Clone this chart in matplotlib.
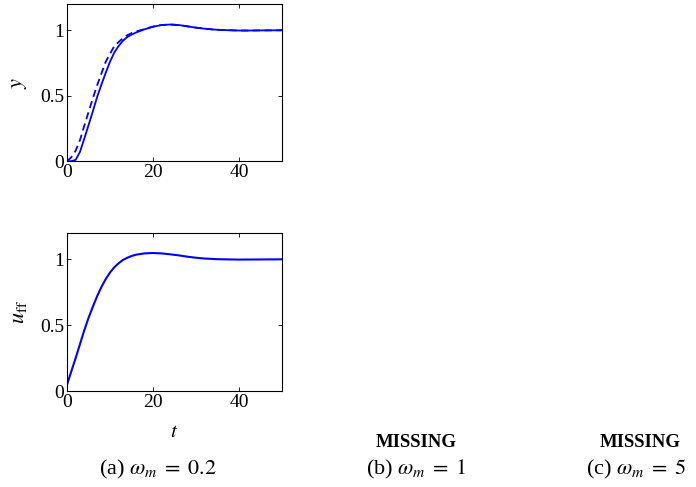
import matplotlib
matplotlib.use('Agg')
import matplotlib.pyplot as plt

plt.rcParams['font.family'] = ['Liberation Serif', 'DejaVu Serif']
plt.rcParams['mathtext.fontset'] = 'stix'

# output y (solid) and reference (dashed)
t_y = [0, 1, 2, 3, 4, 5, 6, 7, 8, 9, 10, 11, 12, 13, 14, 15, 16, 17, 18, 20, 22, 24,
       26, 28, 30, 32, 34, 36, 38, 40, 42, 45, 50]
y_solid = [0, 0, 0.01, 0.07, 0.17, 0.275, 0.38, 0.49, 0.585, 0.675, 0.76, 0.83, 0.88,
           0.92, 0.948, 0.967, 0.982, 0.995, 1.007, 1.027, 1.04, 1.044, 1.04, 1.03, 1.02,
           1.012, 1.006, 1.002, 1.0, 0.998, 0.998, 0.999, 1.0]
y_dashed = [0, 0.03, 0.08, 0.16, 0.27, 0.375, 0.48, 0.58, 0.67, 0.76, 0.82, 0.88, 0.91,
            0.94, 0.962, 0.978, 0.99, 1.0, 1.01, 1.028, 1.04, 1.044, 1.04, 1.03, 1.02,
            1.012, 1.006, 1.002, 1.0, 0.998, 0.998, 0.999, 1.0]

# feedforward input
t_u = [0, 1, 2, 3, 4, 5, 6, 7, 8, 9, 10, 11, 12, 13, 14, 15, 16, 18, 20, 22, 24, 26,
       28, 30, 32, 35, 40, 45, 50]
u_ff = [0.048, 0.15, 0.25, 0.355, 0.46, 0.555, 0.64, 0.72, 0.79, 0.85, 0.9, 0.94, 0.97,
        0.995, 1.012, 1.025, 1.035, 1.045, 1.048, 1.045, 1.038, 1.03, 1.02, 1.012, 1.006,
        1.001, 0.998, 0.999, 1.0]

captions = [r'(a) $\omega_m\;=\;0.2$', r'(b) $\omega_m\;=\;1$', r'(c) $\omega_m\;=\;5$']
blue = '#0000ff'

fig = plt.figure(figsize=(6.96, 4.87), dpi=100)
ax1 = fig.add_axes([0.0963, 0.669, 0.3089, 0.3226])
ax2 = fig.add_axes([0.0963, 0.197, 0.3089, 0.3246])

ax1.plot(t_y, y_dashed, '--', color=blue, lw=1.3, dashes=(4, 2.5))
ax1.plot(t_y, y_solid, '-', color=blue, lw=1.3)
ax2.plot(t_u, u_ff, '-', color=blue, lw=1.5)

for ax in (ax1, ax2):
    ax.set_xlim(0, 50)
    ax.set_ylim(0, 1.2)
    ax.set_xticks([0, 20, 40])
    ax.set_yticks([0, 0.5, 1])
    ax.set_yticklabels(['0', '0.5', '1'])
    ax.tick_params(direction='in', length=3, width=0.6, labelsize=14, top=True, right=True,
                   pad=2)
    for s in ax.spines.values():
        s.set_linewidth(0.8)

ax1.set_ylabel(r'$y$', fontsize=16, labelpad=8)
ax2.set_ylabel(r'$u_{\rm ff}$', fontsize=16, labelpad=8)
ax2.set_xlabel(r'$t$', fontsize=15, labelpad=9)

fig.text(0.598, 0.082, 'MISSING', ha='center', va='baseline', fontsize=13.5,
         fontweight='bold')
fig.text(0.92, 0.082, 'MISSING', ha='center', va='baseline', fontsize=13.5,
         fontweight='bold')
for x, c in zip([0.227, 0.598, 0.914], captions):
    fig.text(x, 0.026, c, ha='center', va='baseline', fontsize=16)

fig.savefig('out.png', dpi=100)
